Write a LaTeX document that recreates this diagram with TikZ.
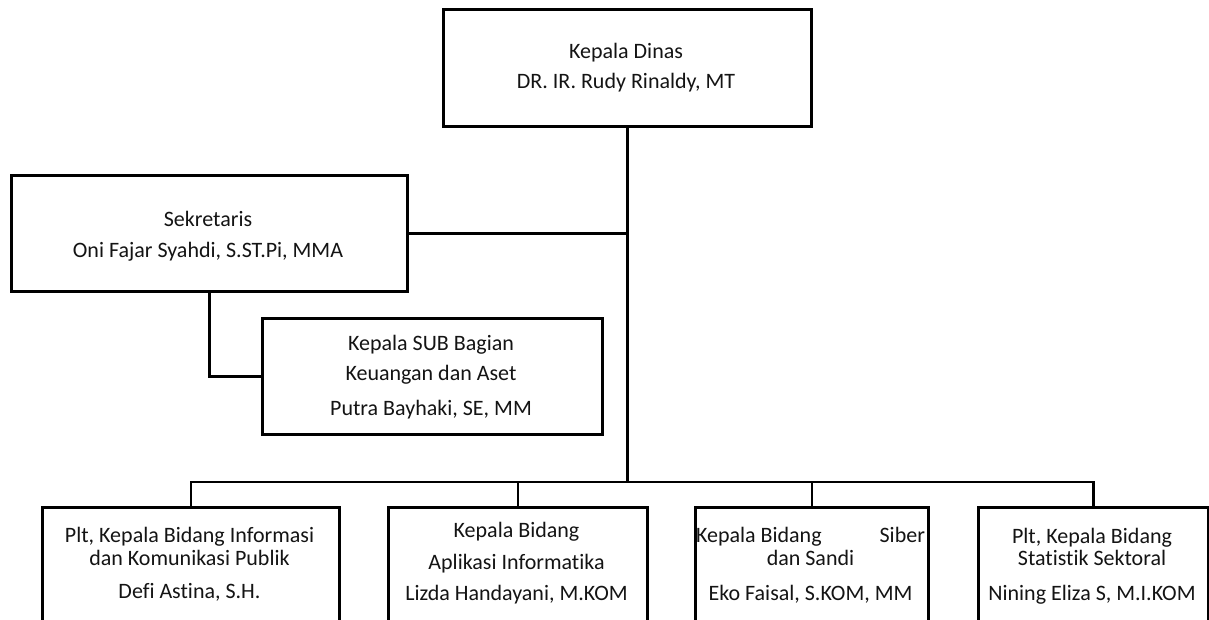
\documentclass[tikz,border=0pt]{standalone}
\usepackage{fontspec}
\setmainfont{Carlito}[Ligatures=NoCommon]
\begin{document}
\begin{tikzpicture}[x=1pt,y=-1pt,
  box/.style={draw, line width=2.8pt, inner sep=0pt, anchor=north west},
  link/.style={line width=2.8pt},
  txt/.style={anchor=base, inner sep=0pt, font=\fontsize{22}{26}\selectfont, text=black!92}]
\useasboundingbox (0,0) rectangle (1209,620);
\clip (0,0) rectangle (1209,620);
\fill[white] (0,0) rectangle (1209,620);
% boxes
\node[box, minimum width=368pt, minimum height=117pt] (kadis) at (442,8) {};
\node[box, minimum width=396pt, minimum height=116pt] (sek) at (10,174) {};
\node[box, minimum width=340pt, minimum height=116pt] (sub) at (261,317) {};
\node[box, minimum width=297pt, minimum height=140pt] (b1) at (41,506) {};
\node[box, minimum width=259pt, minimum height=140pt] (b2) at (387,506) {};
\node[box, minimum width=233pt, minimum height=140pt] (b3) at (694,506) {};
\node[box, minimum width=230pt, minimum height=140pt] (b4) at (977,506) {};
\coordinate (bus) at (625,482);
% connectors
\draw[link] (kadis.south) -- (kadis.south |- bus);
\draw[link] (sek.east) -- (sek.east -| kadis.south);
\draw[link] (sek.south) |- (sub.west);
\draw[link] (b1.north) -- (b1.north |- bus) -| (b4.north);
\draw[link] (b2.north) -- (b2.north |- bus);
\draw[link] (b3.north) -- (b3.north |- bus);
% texts
\node[txt] (kadis1) at (626,59) {Kepala Dinas};
\node[txt] (kadis2) at (626,89) {DR. IR. Rudy Rinaldy, MT};
\node[txt] (sek1) at (208,227) {Sekretaris};
\node[txt] (sek2) at (208,258) {Oni Fajar Syahdi, S.ST.Pi, MMA};
\node[txt] (sub1) at (431,350) {Kepala SUB Bagian};
\node[txt] (sub2) at (431,380) {Keuangan dan Aset};
\node[txt] (sub3) at (431,415) {Putra Bayhaki, SE, MM};
\node[txt] (b1a) at (189.5,542) {Plt, Kepala Bidang Informasi};
\node[txt] (b1b) at (189.5,565) {dan Komunikasi Publik};
\node[txt] (b1c) at (189.5,598) {Defi Astina, S.H.};
\node[txt] (b2a) at (516.5,537) {Kepala Bidang};
\node[txt] (b2b) at (516.5,569) {Aplikasi Informatika};
\node[txt] (b2c) at (516.5,600) {Lizda Handayani, M.KOM};
\node[txt] (b3a) at (810.5,542) {\makebox[229pt][s]{Kepala Bidang\hfill Siber}};
\node[txt] (b3b) at (810.5,565) {dan Sandi};
\node[txt] (b3c) at (810.5,600) {Eko Faisal, S.KOM, MM};
\node[txt] (b4a) at (1092,543) {Plt, Kepala Bidang};
\node[txt] (b4b) at (1092,565) {Statistik Sektoral};
\node[txt] (b4c) at (1092,600) {Nining Eliza S, M.I.KOM};
\end{tikzpicture}
\end{document}
